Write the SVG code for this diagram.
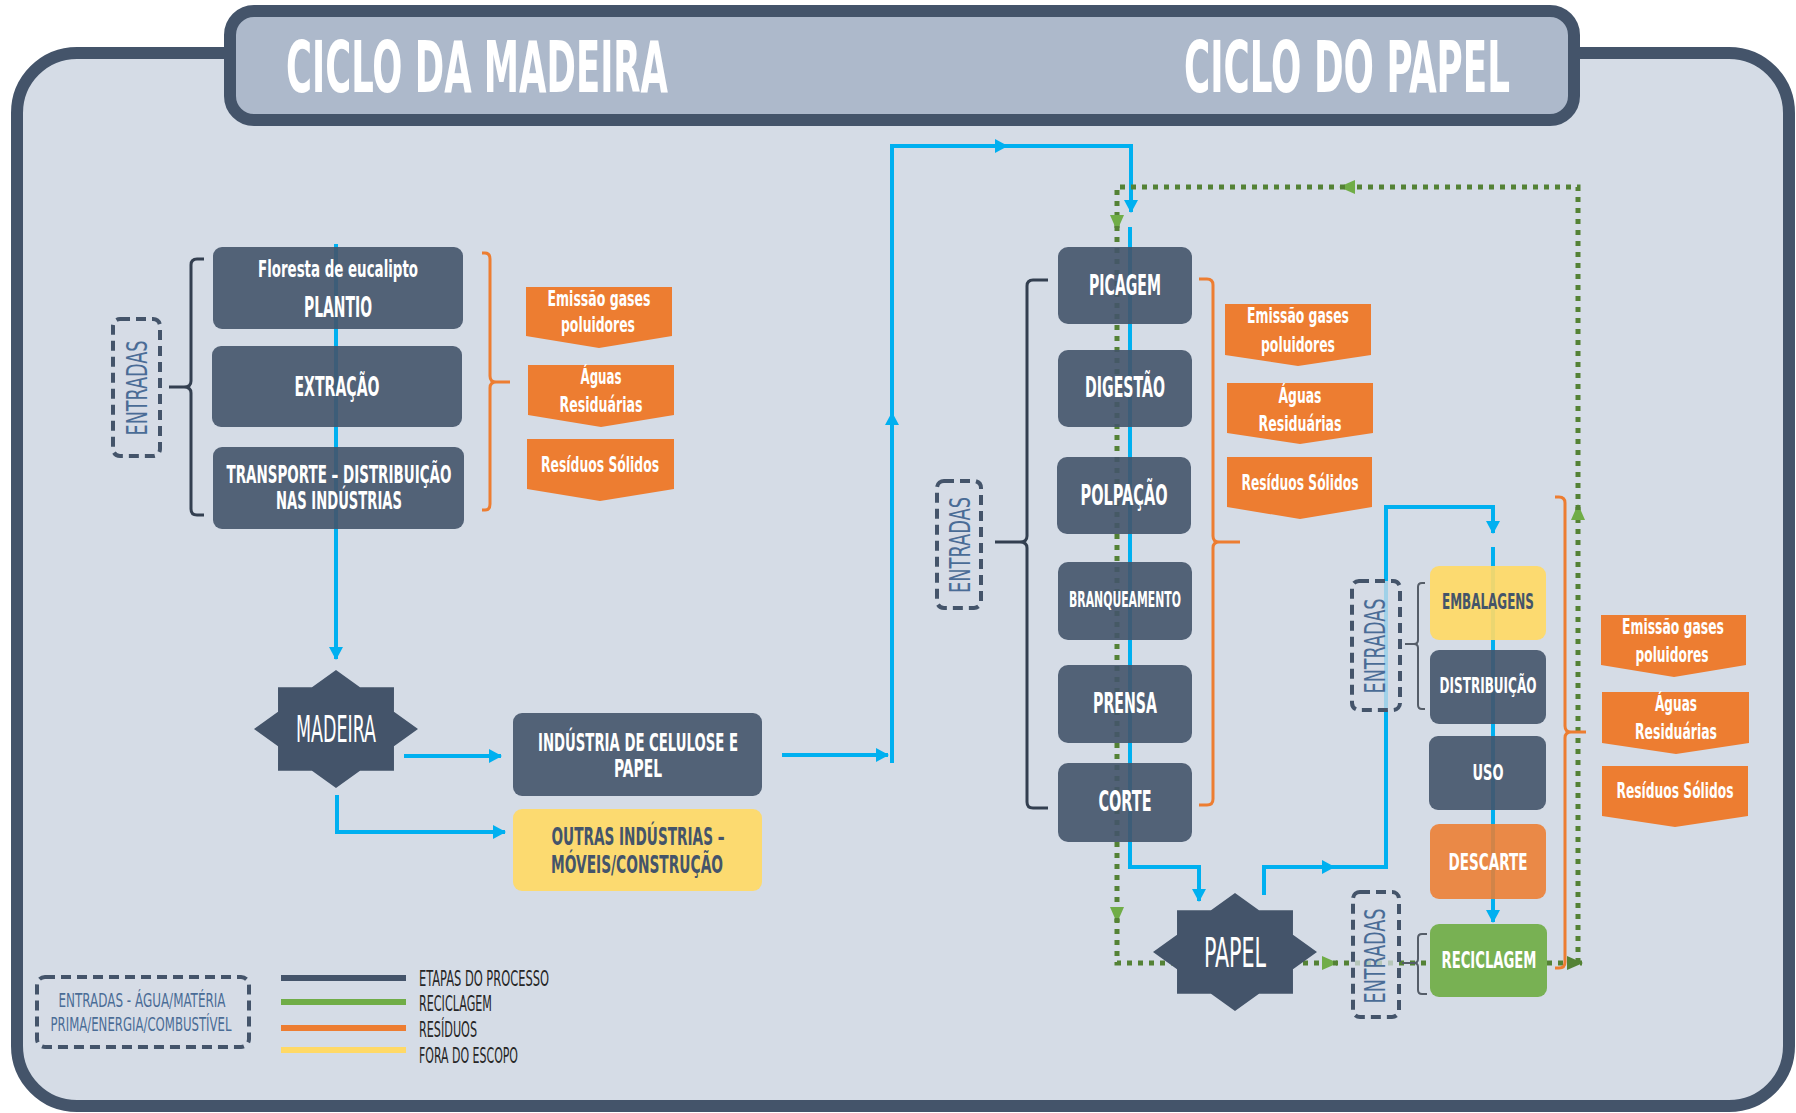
<svg xmlns="http://www.w3.org/2000/svg" xmlns:xlink="http://www.w3.org/1999/xlink" width="1796" height="1113" viewBox="0 0 1796 1113">
<style>
.t{font-family:"Liberation Sans Narrow","DejaVu Sans Condensed","Liberation Sans",sans-serif;text-anchor:middle}
.wb{fill:#ffffff;font-weight:bold}
.db{fill:#44546a;font-weight:bold}
.wn{fill:#ffffff;font-weight:normal}
.ent{fill:#4a6c96;font-weight:normal;font-size:29px}
.lg{fill:#262626;font-weight:normal;font-size:21px;text-anchor:start}
.box{fill:#44546a;fill-opacity:0.9}
.ybox{fill:#ffd966;fill-opacity:0.92}
.obox{fill:#ed7d31;fill-opacity:0.88}
.gbox{fill:#70ad47;fill-opacity:0.92}
.lab{fill:#ed7d31}
.dash{fill:#d5dce6;fill-opacity:0.75;stroke:#44546a;stroke-width:4;stroke-dasharray:10 6}
.br{fill:none;stroke:#333f50;stroke-width:3}
.brs{fill:none;stroke:#555d68;stroke-width:2}
.bro{fill:none;stroke:#ed7d31;stroke-width:3}
.blue{fill:none;stroke:#00b0f0;stroke-width:4;marker-end:url(#ab)}
.bluen{fill:none;stroke:#00b0f0;stroke-width:4}
.grn{fill:none;stroke:#548235;stroke-width:5;stroke-dasharray:5 6}
.ga{marker-end:url(#ag)}
.gd{marker-end:url(#agd)}
</style>
<defs>
<marker id="ab" markerUnits="userSpaceOnUse" viewBox="0 0 13 14" markerWidth="13" markerHeight="14" refX="12" refY="7" orient="auto"><path d="M0,0 L13,7 L0,14 Z" fill="#00b0f0"/></marker>
<marker id="ag" markerUnits="userSpaceOnUse" viewBox="0 0 16 14" markerWidth="16" markerHeight="14" refX="15" refY="7" orient="auto"><path d="M0,0 L16,7 L0,14 Z" fill="#70ad47"/></marker>
<marker id="agd" markerUnits="userSpaceOnUse" viewBox="0 0 16 14" markerWidth="16" markerHeight="14" refX="15" refY="7" orient="auto"><path d="M0,0 L16,7 L0,14 Z" fill="#548235"/></marker>
<path id="star8" d="M0,-1 L0.2928,-0.7068 L0.7071,-0.7071 L0.7068,-0.2928 L1,0 L0.7068,0.2928 L0.7071,0.7071 L0.2928,0.7068 L0,1 L-0.2928,0.7068 L-0.7071,0.7071 L-0.7068,0.2928 L-1,0 L-0.7068,-0.2928 L-0.7071,-0.7071 L-0.2928,-0.7068 Z"/>
</defs>
<rect x="0" y="0" width="1796" height="1113" fill="#ffffff"/>
<g id="frame">
<rect x="17" y="53" width="1772" height="1053" rx="60" fill="#d5dce6" stroke="#44546a" stroke-width="12"/>
<rect x="230" y="11" width="1344" height="109" rx="24" fill="#adb9cb" stroke="#44546a" stroke-width="12"/>
<text class="t wb" x="477" y="92" font-size="72" textLength="382" lengthAdjust="spacingAndGlyphs">CICLO DA MADEIRA</text>
<text class="t wb" x="1347" y="92" font-size="72" textLength="326" lengthAdjust="spacingAndGlyphs">CICLO DO PAPEL</text>
</g>
<g id="connectors">
<path class="blue" d="M336 244 V659"/>
<path class="blue" d="M404 756 H501"/>
<path class="blue" d="M337 795 V832 H505"/>
<path class="blue" d="M782 755 H888"/>
<path class="blue" d="M892 763 V413"/>
<path class="blue" d="M892 418 V146 H1007"/>
<path class="blue" d="M1003 146 H1131 V212"/>
<path class="blue" d="M1130 227 V867 H1199 V901"/>
<path class="blue" d="M1264 895 V867 H1334"/>
<path class="bluen" d="M1330 867 H1386 V507 H1493 V520"/>
<path class="blue" d="M1493 516 V533"/>
<path class="blue" d="M1493 547 V922"/>
<path class="grn gd" d="M1547 963 H1582"/>
<path class="grn ga" d="M1578 963 V505"/>
<path class="grn ga" d="M1578 510 V187 H1340"/>
<path class="grn ga" d="M1345 187 H1117 V230"/>
<path class="grn ga" d="M1117 226 V922"/>
<path class="grn ga" d="M1117 918 V963 H1337"/>
<path class="grn" d="M1333 963 H1430"/>
</g>
<g id="bracket-left">
<path class="br" d="M204 259 H197 Q191 259 191 265 V381 Q191 387 184 387 H169 M184 387 Q191 387 191 393 V509 Q191 515 197 515 H204"/>
</g>
<g id="bracket-left-orange">
<path class="bro" d="M482 253 H485 Q490 253 490 259 V376 Q490 382 496 382 H510 M496 382 Q490 382 490 388 V504 Q490 510 485 510 H482"/>
</g>
<g id="entradas-left">
<rect class="dash" x="113" y="319" width="47" height="137" rx="7"/>
<text class="t ent" transform="translate(147 388) rotate(-90)" textLength="95" lengthAdjust="spacingAndGlyphs">ENTRADAS</text>
</g>
<g id="plantio">
<rect class="box" x="213" y="247" width="250" height="82" rx="9"/>
<text class="t wb" x="338" y="277" font-size="23" textLength="160" lengthAdjust="spacingAndGlyphs">Floresta de eucalipto</text>
<text class="t wb" x="338" y="317" font-size="28" textLength="68" lengthAdjust="spacingAndGlyphs">PLANTIO</text>
</g>
<g id="extracao">
<rect class="box" x="212" y="346" width="250" height="81" rx="9"/>
<text class="t wb" x="337" y="396" font-size="27" textLength="85" lengthAdjust="spacingAndGlyphs">EXTRAÇÃO</text>
</g>
<g id="transporte">
<rect class="box" x="213" y="447" width="251" height="82" rx="9"/>
<text class="t wb" x="339" y="483" font-size="24" textLength="225" lengthAdjust="spacingAndGlyphs">TRANSPORTE – DISTRIBUIÇÃO</text>
<text class="t wb" x="339" y="509" font-size="24" textLength="126" lengthAdjust="spacingAndGlyphs">NAS INDÚSTRIAS</text>
</g>
<g id="emissao-left">
<polygon class="lab" points="526,287 672,287 672,336 599,348 526,336"/>
<text class="t wb" x="599" y="306" font-size="21" textLength="103" lengthAdjust="spacingAndGlyphs">Emissão gases</text>
<text class="t wb" x="598" y="332" font-size="21" textLength="74" lengthAdjust="spacingAndGlyphs">poluidores</text>
</g>
<g id="aguas-left">
<polygon class="lab" points="528,365 674,365 674,415 601,427 528,415"/>
<text class="t wb" x="601" y="384" font-size="21" textLength="41" lengthAdjust="spacingAndGlyphs">Águas</text>
<text class="t wb" x="601" y="412" font-size="21" textLength="83" lengthAdjust="spacingAndGlyphs">Residuárias</text>
</g>
<g id="residuos-left">
<polygon class="lab" points="527,439 674,439 674,489 600,501 527,489"/>
<text class="t wb" x="600" y="472" font-size="21" textLength="118" lengthAdjust="spacingAndGlyphs">Resíduos Sólidos</text>
</g>
<g id="madeira">
<use xlink:href="#star8" href="#star8" transform="translate(336 729) scale(82 59)" fill="#44546a"/>
<text class="t wn" x="336" y="742" font-size="37" textLength="80" lengthAdjust="spacingAndGlyphs">MADEIRA</text>
</g>
<g id="industria">
<rect class="box" x="513" y="713" width="249" height="83" rx="9"/>
<text class="t wb" x="638" y="751" font-size="24" textLength="200" lengthAdjust="spacingAndGlyphs">INDÚSTRIA DE CELULOSE E</text>
<text class="t wb" x="638" y="777" font-size="24" textLength="48" lengthAdjust="spacingAndGlyphs">PAPEL</text>
</g>
<g id="outras">
<rect class="ybox" x="513" y="809" width="249" height="82" rx="9"/>
<text class="t db" x="638" y="845" font-size="24" textLength="173" lengthAdjust="spacingAndGlyphs">OUTRAS INDÚSTRIAS –</text>
<text class="t db" x="637" y="873" font-size="24" textLength="172" lengthAdjust="spacingAndGlyphs">MÓVEIS/CONSTRUÇÃO</text>
</g>
<g id="bracket-mid">
<path class="br" d="M1048 280 H1033 Q1027 280 1027 286 V536 Q1027 542 1020 542 H995 M1020 542 Q1027 542 1027 548 V802 Q1027 808 1033 808 H1048"/>
</g>
<g id="bracket-mid-orange">
<path class="bro" d="M1199 279 H1207 Q1213 279 1213 285 V536 Q1213 542 1219 542 H1240 M1219 542 Q1213 542 1213 548 V799 Q1213 805 1207 805 H1199"/>
</g>
<g id="entradas-mid">
<rect class="dash" x="937" y="481" width="44" height="127" rx="7"/>
<text class="t ent" transform="translate(970 545) rotate(-90)" textLength="96" lengthAdjust="spacingAndGlyphs">ENTRADAS</text>
</g>
<g id="picagem">
<rect class="box" x="1058" y="247" width="134" height="77" rx="10"/>
<text class="t wb" x="1125" y="295" font-size="28" textLength="72" lengthAdjust="spacingAndGlyphs">PICAGEM</text>
</g>
<g id="digestao">
<rect class="box" x="1058" y="350" width="134" height="77" rx="10"/>
<text class="t wb" x="1125" y="397" font-size="28" textLength="80" lengthAdjust="spacingAndGlyphs">DIGESTÃO</text>
</g>
<g id="polpacao">
<rect class="box" x="1057" y="457" width="134" height="77" rx="10"/>
<text class="t wb" x="1124" y="505" font-size="28" textLength="87" lengthAdjust="spacingAndGlyphs">POLPAÇÃO</text>
</g>
<g id="branqueamento">
<rect class="box" x="1058" y="562" width="134" height="78" rx="10"/>
<text class="t wb" x="1125" y="607" font-size="22" textLength="112" lengthAdjust="spacingAndGlyphs">BRANQUEAMENTO</text>
</g>
<g id="prensa">
<rect class="box" x="1058" y="665" width="134" height="78" rx="10"/>
<text class="t wb" x="1125" y="713" font-size="28" textLength="64" lengthAdjust="spacingAndGlyphs">PRENSA</text>
</g>
<g id="corte">
<rect class="box" x="1058" y="763" width="134" height="79" rx="10"/>
<text class="t wb" x="1125" y="811" font-size="28" textLength="53" lengthAdjust="spacingAndGlyphs">CORTE</text>
</g>
<g id="emissao-mid">
<polygon class="lab" points="1225,304 1371,304 1371,355 1298,366 1225,355"/>
<text class="t wb" x="1298" y="323" font-size="21" textLength="102" lengthAdjust="spacingAndGlyphs">Emissão gases</text>
<text class="t wb" x="1298" y="352" font-size="21" textLength="74" lengthAdjust="spacingAndGlyphs">poluidores</text>
</g>
<g id="aguas-mid">
<polygon class="lab" points="1227,383 1373,383 1373,433 1300,444 1227,433"/>
<text class="t wb" x="1300" y="403" font-size="21" textLength="43" lengthAdjust="spacingAndGlyphs">Águas</text>
<text class="t wb" x="1300" y="431" font-size="21" textLength="83" lengthAdjust="spacingAndGlyphs">Residuárias</text>
</g>
<g id="residuos-mid">
<polygon class="lab" points="1227,457 1372,457 1372,507 1300,519 1227,507"/>
<text class="t wb" x="1300" y="490" font-size="21" textLength="117" lengthAdjust="spacingAndGlyphs">Resíduos Sólidos</text>
</g>
<g id="papel">
<use xlink:href="#star8" href="#star8" transform="translate(1235 952) scale(82 59)" fill="#44546a"/>
<text class="t wn" x="1235" y="967" font-size="40" textLength="62" lengthAdjust="spacingAndGlyphs">PAPEL</text>
</g>
<g id="bracket-right-upper">
<path class="brs" d="M1425 583 H1422 Q1418 583 1418 587 V640 Q1418 644 1414 644 H1405 M1414 644 Q1418 644 1418 648 V705 Q1418 709 1422 709 H1425"/>
</g>
<g id="entradas-right-upper">
<rect class="dash" x="1352" y="581" width="48" height="129" rx="7"/>
<text class="t ent" transform="translate(1385 646) rotate(-90)" textLength="95" lengthAdjust="spacingAndGlyphs">ENTRADAS</text>
</g>
<g id="embalagens">
<rect class="ybox" x="1430" y="566" width="116" height="74" rx="9"/>
<text class="t db" x="1488" y="609" font-size="22" textLength="92" lengthAdjust="spacingAndGlyphs">EMBALAGENS</text>
</g>
<g id="distribuicao">
<rect class="box" x="1430" y="650" width="116" height="74" rx="9"/>
<text class="t wb" x="1488" y="693" font-size="22" textLength="97" lengthAdjust="spacingAndGlyphs">DISTRIBUIÇÃO</text>
</g>
<g id="uso">
<rect class="box" x="1429" y="736" width="117" height="74" rx="9"/>
<text class="t wb" x="1488" y="780" font-size="22" textLength="31" lengthAdjust="spacingAndGlyphs">USO</text>
</g>
<g id="descarte">
<rect class="obox" x="1430" y="824" width="116" height="75" rx="9"/>
<text class="t wb" x="1488" y="870" font-size="23" textLength="79" lengthAdjust="spacingAndGlyphs">DESCARTE</text>
</g>
<g id="bracket-right-lower">
<path class="brs" d="M1427 934 H1422 Q1418 934 1418 938 V959 Q1418 963 1414 963 H1402 M1414 963 Q1418 963 1418 967 V990 Q1418 994 1422 994 H1427"/>
</g>
<g id="entradas-right-lower">
<rect class="dash" x="1353" y="892" width="46" height="125" rx="7"/>
<text class="t ent" transform="translate(1385 956) rotate(-90)" textLength="95" lengthAdjust="spacingAndGlyphs">ENTRADAS</text>
</g>
<g id="reciclagem">
<rect class="gbox" x="1430" y="924" width="117" height="73" rx="9"/>
<text class="t wb" x="1489" y="968" font-size="23" textLength="95" lengthAdjust="spacingAndGlyphs">RECICLAGEM</text>
</g>
<g id="bracket-right-orange">
<path class="bro" d="M1555 497 H1559 Q1565 497 1565 503 V726 Q1565 732 1571 732 H1586 M1571 732 Q1565 732 1565 738 V962 Q1565 968 1559 968 H1555"/>
</g>
<g id="emissao-right">
<polygon class="lab" points="1601,615 1746,615 1746,665 1674,677 1601,665"/>
<text class="t wb" x="1673" y="634" font-size="21" textLength="102" lengthAdjust="spacingAndGlyphs">Emissão gases</text>
<text class="t wb" x="1672" y="662" font-size="21" textLength="73" lengthAdjust="spacingAndGlyphs">poluidores</text>
</g>
<g id="aguas-right">
<polygon class="lab" points="1602,692 1749,692 1749,743 1676,754 1602,743"/>
<text class="t wb" x="1676" y="711" font-size="21" textLength="42" lengthAdjust="spacingAndGlyphs">Águas</text>
<text class="t wb" x="1676" y="739" font-size="21" textLength="82" lengthAdjust="spacingAndGlyphs">Residuárias</text>
</g>
<g id="residuos-right">
<polygon class="lab" points="1602,766 1748,766 1748,816 1675,827 1602,816"/>
<text class="t wb" x="1675" y="798" font-size="21" textLength="117" lengthAdjust="spacingAndGlyphs">Resíduos Sólidos</text>
</g>
<g id="legend">
<rect class="dash" x="37" y="977" width="212" height="70" rx="8"/>
<text class="t" x="142" y="1007" font-size="20" fill="#4a6c96" textLength="167" lengthAdjust="spacingAndGlyphs">ENTRADAS -  ÁGUA/MATÉRIA</text>
<text class="t" x="141" y="1031" font-size="20" fill="#4a6c96" textLength="181" lengthAdjust="spacingAndGlyphs">PRIMA/ENERGIA/COMBUSTÍVEL</text>
<line x1="281" y1="978" x2="406" y2="978" stroke="#44546a" stroke-width="6"/>
<line x1="281" y1="1002" x2="406" y2="1002" stroke="#70ad47" stroke-width="6"/>
<line x1="281" y1="1028" x2="406" y2="1028" stroke="#ed7d31" stroke-width="6"/>
<line x1="281" y1="1050" x2="406" y2="1050" stroke="#ffd966" stroke-width="6"/>
<text class="t lg" x="419" y="986" textLength="130" lengthAdjust="spacingAndGlyphs">ETAPAS DO PROCESSO</text>
<text class="t lg" x="419" y="1011" textLength="73" lengthAdjust="spacingAndGlyphs">RECICLAGEM</text>
<text class="t lg" x="419" y="1037" textLength="58" lengthAdjust="spacingAndGlyphs">RESÍDUOS</text>
<text class="t lg" x="419" y="1063" textLength="99" lengthAdjust="spacingAndGlyphs">FORA DO ESCOPO</text>
</g>
</svg>
